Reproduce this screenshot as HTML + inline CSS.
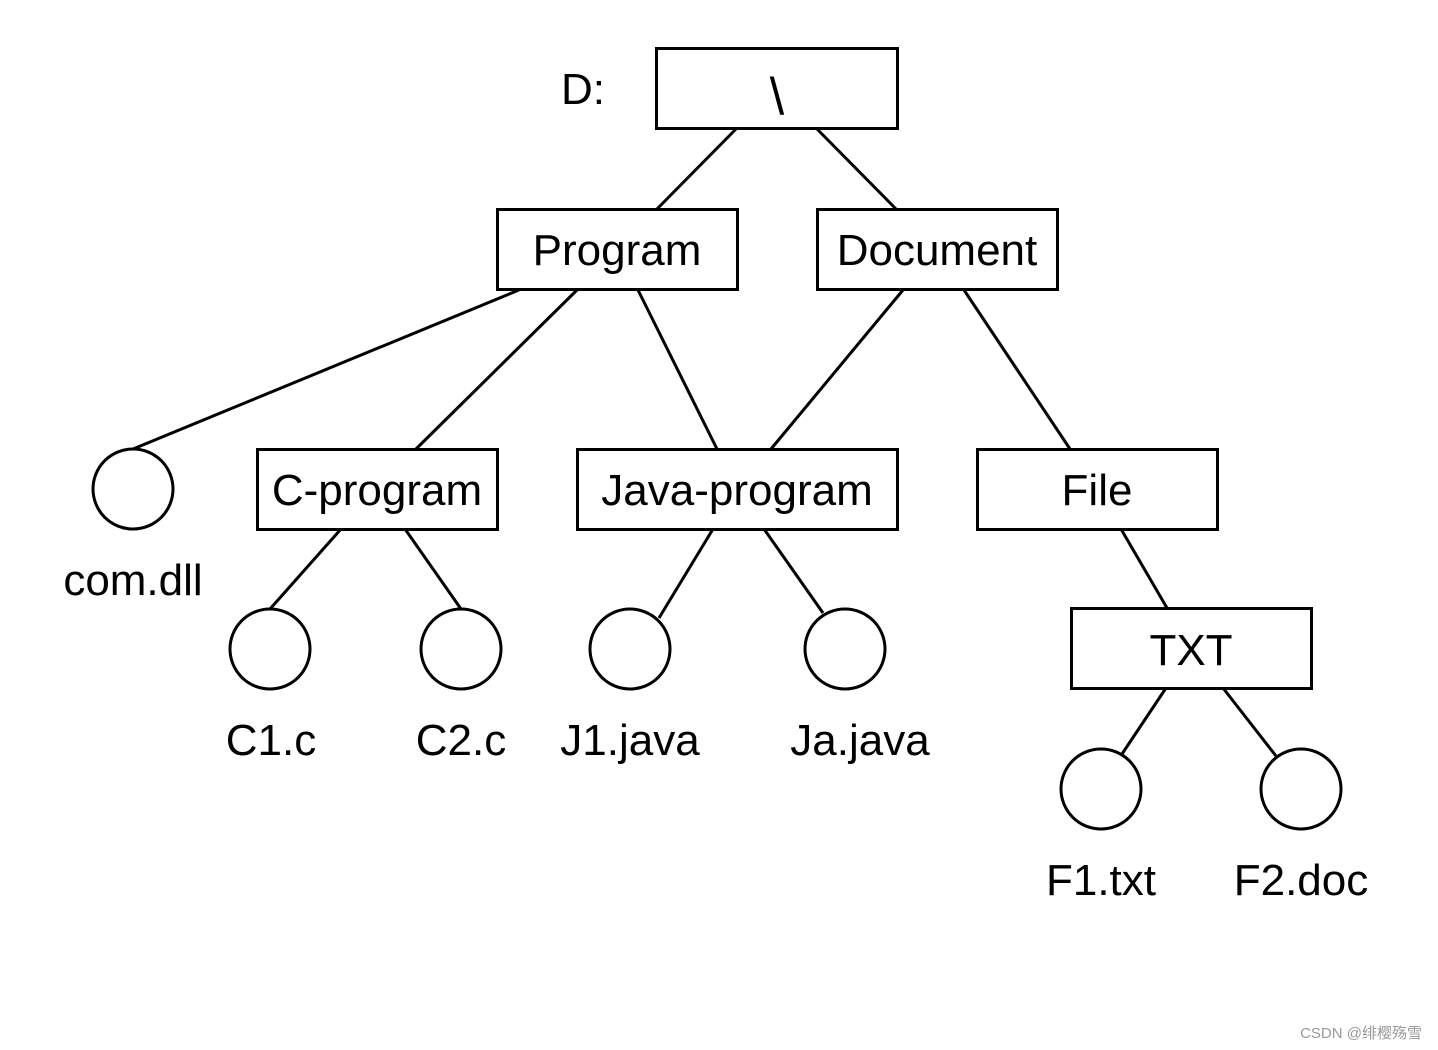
<!DOCTYPE html>
<html><head><meta charset="utf-8"><style>
html,body{margin:0;padding:0;background:#fff;}
svg{display:block;}
text{font-family:"Liberation Sans","Noto Sans CJK SC",sans-serif;fill:#000;}
</style></head><body>
<svg width="1438" height="1050" viewBox="0 0 1438 1050" xmlns="http://www.w3.org/2000/svg">
<g stroke="#000" stroke-width="3" fill="none">
<rect x="656.5" y="48.5" width="241" height="80"/>
<rect x="497.5" y="209.5" width="240" height="80"/>
<rect x="817.5" y="209.5" width="240" height="80"/>
<rect x="257.5" y="449.5" width="240" height="80"/>
<rect x="577.5" y="449.5" width="320" height="80"/>
<rect x="977.5" y="449.5" width="240" height="80"/>
<rect x="1071.5" y="608.5" width="240" height="80"/>
<circle cx="133" cy="489" r="40"/>
<circle cx="270" cy="649" r="40"/>
<circle cx="461" cy="649" r="40"/>
<circle cx="630" cy="649" r="40"/>
<circle cx="845" cy="649" r="40"/>
<circle cx="1101" cy="789" r="40"/>
<circle cx="1301" cy="789" r="40"/>
<line x1="736" y1="129" x2="657" y2="209"/>
<line x1="817" y1="129" x2="896" y2="209"/>
<line x1="519" y1="290" x2="133" y2="449"/>
<line x1="577" y1="290" x2="416" y2="449"/>
<line x1="638" y1="290" x2="717" y2="449"/>
<line x1="903" y1="290" x2="771" y2="449"/>
<line x1="964" y1="290" x2="1070" y2="449"/>
<line x1="341" y1="529" x2="270" y2="609"/>
<line x1="405" y1="529" x2="461" y2="609"/>
<line x1="713" y1="529" x2="659" y2="618"/>
<line x1="764" y1="529" x2="823" y2="613"/>
<line x1="1121" y1="529" x2="1167" y2="608"/>
<line x1="1166" y1="688" x2="1122" y2="754"/>
<line x1="1223" y1="688" x2="1276" y2="756"/>
</g>
<g font-size="44" text-anchor="middle">
<text x="777" y="114" font-size="52">\</text>
<text x="583" y="104" font-size="44">D:</text>
<text x="617" y="265">Program</text>
<text x="937" y="265">Document</text>
<text x="377" y="505">C-program</text>
<text x="737" y="505">Java-program</text>
<text x="1097" y="505">File</text>
<text x="1191" y="665">TXT</text>
<text x="133" y="595">com.dll</text>
<text x="271" y="755">C1.c</text>
<text x="461" y="755">C2.c</text>
<text x="630" y="755">J1.java</text>
<text x="860" y="755">Ja.java</text>
<text x="1101" y="895">F1.txt</text>
<text x="1301" y="895">F2.doc</text>
</g>
<text x="1422" y="1038" font-size="15" text-anchor="end" style="fill:#999">CSDN @绯樱殇雪</text>
</svg>
</body></html>
